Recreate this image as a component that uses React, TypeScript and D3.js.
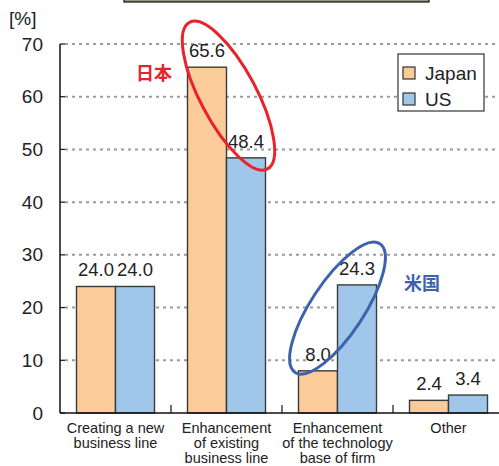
import React from 'react';
import * as d3 from 'd3';

// chart data
const categories = ['new', 'existing', 'technology', 'other'];
const categoryLabels: string[][] = [
  ['Creating a new', 'business line'],
  ['Enhancement', 'of existing', 'business line'],
  ['Enhancement', 'of the technology', 'base of firm'],
  ['Other'],
];
const seriesNames = ['Japan', 'US'];
const japanValues = [24.0, 65.6, 8.0, 2.4];
const usValues = [24.0, 48.4, 24.3, 3.4];
const yTicks = [0, 10, 20, 30, 40, 50, 60, 70];

const W = 499;
const H = 466;
const colors: Record<string, string> = { Japan: '#FBCB99', US: '#A0C7EA' };
const font = '"Liberation Sans", Arial, sans-serif';
const jpFont = '"Noto Sans CJK JP", sans-serif';

const App: React.FC = () => {
  const margin = { top: 44, left: 60, bottom: 413 };
  const x0 = d3.scaleBand<string>().domain(categories).range([margin.left, 504]).padding(0);
  const x1 = d3.scaleBand<string>().domain(seriesNames).range([0, x0.bandwidth()])
    .paddingInner(0).paddingOuter(0.423);
  const y = d3.scaleLinear().domain([0, 70]).range([margin.bottom, margin.top]);

  const rows = categories.map((c, i) => ({ c, Japan: japanValues[i], US: usValues[i] }));

  const redCx = x0('existing')! + x0.bandwidth() / 2 + 2;
  const blueCx = x0('technology')! + x0.bandwidth() / 2;

  return (
    <svg width={W} height={H} style={{ position: 'absolute', left: 0, top: 0, background: '#fff' }}
      fontFamily={font}>
      {/* title strip cut off at the top */}
      <rect x={124} y={-4} width={305} height={6} fill="#8E9C84" stroke="#111" strokeWidth={1.2} />

      {/* grid */}
      {yTicks.filter(t => t > 0).map(t => (
        <line key={t} x1={margin.left + 5} x2={W} y1={y(t)} y2={y(t)}
          stroke="#9a9a9a" strokeWidth={2} strokeDasharray="3,4" />
      ))}

      {/* bars */}
      {rows.map(r => (
        <g key={r.c} transform={`translate(${x0(r.c)},0)`}>
          {seriesNames.map(s => {
            const v = (r as any)[s] as number;
            const bx = x1(s)!;
            return (
              <g key={s}>
                <rect x={bx} y={y(v)} width={x1.bandwidth()} height={y(0) - y(v)}
                  fill={colors[s]} stroke="#3a3a3a" strokeWidth={1.4} />
                <text x={bx + x1.bandwidth() / 2} y={y(v) - 10} textAnchor="middle"
                  fontSize={18.5} fill="#222">{v.toFixed(1)}</text>
              </g>
            );
          })}
        </g>
      ))}

      {/* axes */}
      <line x1={margin.left} x2={margin.left} y1={y(70)} y2={y(0)} stroke="#111" strokeWidth={1.5} />
      <line x1={margin.left} x2={W} y1={y(0)} y2={y(0)} stroke="#111" strokeWidth={1.5} />
      {yTicks.map(t => (
        <g key={t}>
          <line x1={margin.left} x2={margin.left + 5} y1={y(t)} y2={y(t)} stroke="#111" strokeWidth={1.2} />
          <text x={43} y={y(t) + 6.5} textAnchor="end" fontSize={19} fill="#222">{t}</text>
        </g>
      ))}
      {categories.slice(1).map(c => (
        <line key={c} x1={x0(c)!} x2={x0(c)!} y1={y(0)} y2={y(0) - 8} stroke="#111" strokeWidth={1.2} />
      ))}
      <text x={9} y={25} fontSize={19} fill="#222">[%]</text>

      {/* category labels */}
      {categories.map((c, i) => (
        <text key={c} textAnchor="middle" fontSize={14.5} fill="#222">
          {categoryLabels[i].map((line, j) => (
            <tspan key={j} x={x0(c)! + x0.bandwidth() / 2} y={433 + j * 15}>{line}</tspan>
          ))}
        </text>
      ))}

      {/* legend */}
      <g>
        <rect x={398} y={54} width={86} height={57} fill="#fff" stroke="#333" strokeWidth={1.2} />
        {seriesNames.map((s, i) => (
          <g key={s}>
            <rect x={403} y={67 + i * 26} width={12} height={12} fill={colors[s]} stroke="#333" strokeWidth={1.2} />
            <text x={425} y={80 + i * 26} fontSize={19} fill="#222">{s}</text>
          </g>
        ))}
      </g>

      {/* annotations */}
      <ellipse cx={0} cy={0} rx={83} ry={28} fill="none" stroke="#E8232B" strokeWidth={3}
        transform={`translate(${redCx},${y(60.2)}) rotate(62)`} />
      <text x={154} y={80} textAnchor="middle" fontSize={18} fontWeight="bold" fill="#E8232B"
        fontFamily={jpFont}>日本</text>
      <ellipse cx={0} cy={0} rx={77} ry={26.5} fill="none" stroke="#3D62AE" strokeWidth={3}
        transform={`translate(${blueCx},${y(19.9)}) rotate(-56.6)`} />
      <text x={422} y={290} textAnchor="middle" fontSize={18} fontWeight="bold" fill="#3D62AE"
        fontFamily={jpFont}>米国</text>
    </svg>
  );
};

export default App;
